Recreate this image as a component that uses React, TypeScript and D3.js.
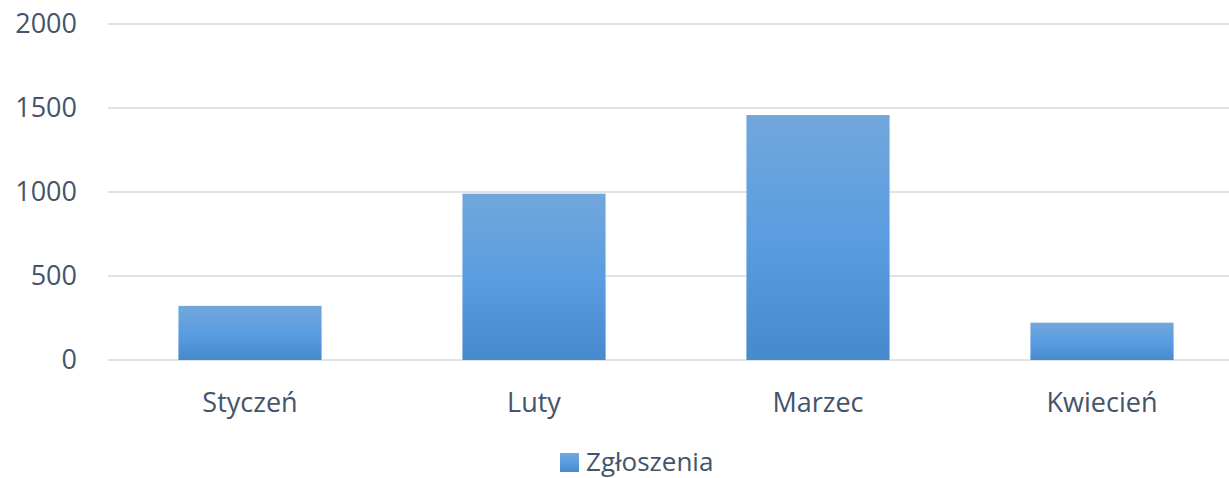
import * as d3 from 'd3';
import React, { useEffect, useRef } from 'react';

const categories = ['Styczeń', 'Luty', 'Marzec', 'Kwiecień'];
const values = [322, 990, 1458, 222];
const yTicks = [0, 500, 1000, 1500, 2000];
const seriesName = 'Zgłoszenia';

const width = 1229;
const height = 478;
const textColor = '#44546a';
const font = '"Open Sans", "Noto Sans", sans-serif';

function App() {
    const ref = useRef<SVGSVGElement>(null);

    useEffect(() => {
        const svg = d3.select(ref.current);
        svg.selectAll('*').remove();

        const defs = svg.append('defs');
        const grad = defs.append('linearGradient')
            .attr('id', 'barGrad')
            .attr('x1', 0).attr('y1', 0).attr('x2', 0).attr('y2', 1);
        grad.append('stop').attr('offset', '0%').attr('stop-color', '#72a7dc');
        grad.append('stop').attr('offset', '50%').attr('stop-color', '#5a9de0');
        grad.append('stop').attr('offset', '100%').attr('stop-color', '#4789cd');

        // plot runs past the right edge of the window, like the reference crop
        const x = d3.scaleBand()
            .domain(categories)
            .range([108, 1244])
            .paddingInner(0.496)
            .paddingOuter(0.248);
        const y = d3.scaleLinear().domain([0, 2000]).range([360, 24]);

        // gridlines
        svg.append('g')
            .selectAll('line')
            .data(yTicks)
            .enter()
            .append('line')
            .attr('x1', 108)
            .attr('x2', width)
            .attr('y1', d => y(d))
            .attr('y2', d => y(d))
            .attr('stroke', '#dfe3ea')
            .attr('stroke-width', 2);

        // y labels
        svg.append('g')
            .selectAll('text')
            .data(yTicks)
            .enter()
            .append('text')
            .attr('x', 77)
            .attr('y', d => y(d))
            .attr('dy', '0.35em')
            .attr('text-anchor', 'end')
            .style('font-family', font)
            .style('font-size', '27px')
            .style('fill', textColor)
            .text(d => d);

        // bars
        svg.append('g')
            .selectAll('rect')
            .data(values)
            .enter()
            .append('rect')
            .attr('x', (d, i) => x(categories[i]) as number)
            .attr('width', x.bandwidth())
            .attr('y', d => y(d))
            .attr('height', d => y(0) - y(d))
            .attr('fill', 'url(#barGrad)');

        // category labels
        svg.append('g')
            .selectAll('text')
            .data(categories)
            .enter()
            .append('text')
            .attr('x', d => (x(d) as number) + x.bandwidth() / 2)
            .attr('y', 412)
            .attr('text-anchor', 'middle')
            .style('font-family', font)
            .style('font-size', '27px')
            .style('fill', textColor)
            .text(d => d);

        // legend (nudged up a little so the descender stays inside)
        const legend = svg.append('g');
        legend.append('rect')
            .attr('x', 560).attr('y', 453)
            .attr('width', 19).attr('height', 19)
            .attr('fill', 'url(#barGrad)');
        legend.append('text')
            .attr('x', 586)
            .attr('y', 471)
            .style('font-family', font)
            .style('font-size', '26px')
            .style('fill', textColor)
            .text(seriesName);
    }, []);

    return (
        <svg ref={ref} width={width} height={height}
            style={{ position: 'absolute', left: 0, top: 0, background: '#fff' }}></svg>
    );
}

export default App;
